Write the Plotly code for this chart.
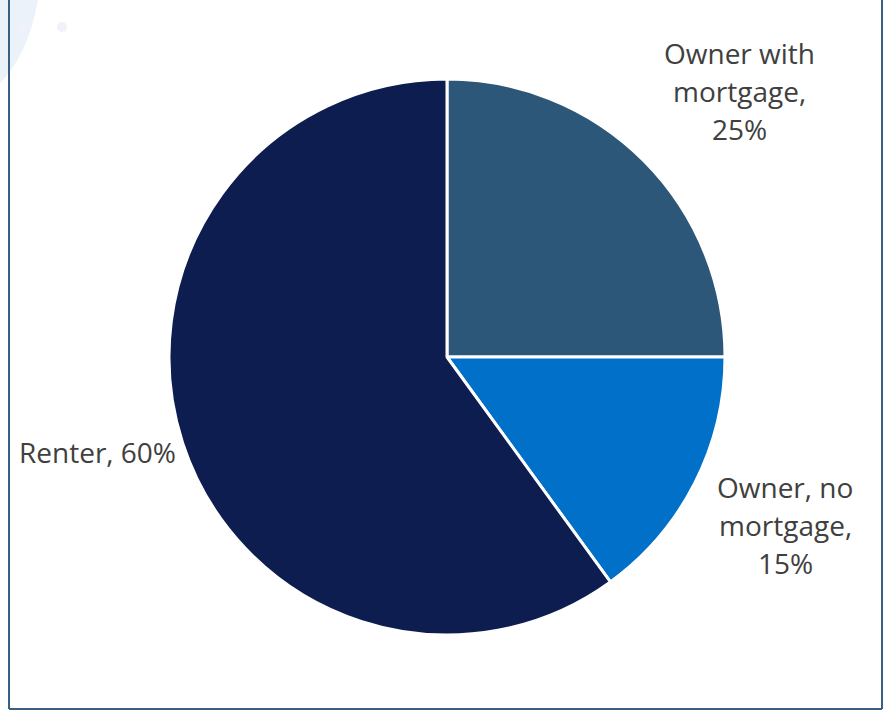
import plotly.graph_objects as go

categories = ["Owner with mortgage", "Owner, no mortgage", "Renter"]
values = [25, 15, 60]
colors = ["#2D5779", "#0070C8", "#0D1D50"]
label_lines = [["Owner with", "mortgage,", "25%"], ["Owner, no", "mortgage,", "15%"], ["Renter, 60%"]]

W, H = 884, 712
cx, cy, r = 447, 357, 278


def px(x):
    return x / W


def py(y):
    return 1 - y / H


fig = go.Figure()
fig.add_trace(go.Pie(
    labels=categories, values=values, sort=False, direction="clockwise", rotation=0,
    marker=dict(colors=colors, line=dict(color="white", width=3)),
    textinfo="none", hoverinfo="label+percent", showlegend=False,
    domain=dict(x=[(cx - r) / W, (cx + r) / W], y=[(H - cy - r) / H, (H - cy + r) / H]),
))

label_pos = [(739, 53), (785, 487), (97, 452)]
line_gap = 38
for lines, (lx, ly) in zip(label_lines, label_pos):
    for i, txt in enumerate(lines):
        fig.add_annotation(x=px(lx), y=py(ly + i * line_gap), xref="paper", yref="paper", text=txt,
                           showarrow=False, xanchor="center", yanchor="middle",
                           font=dict(family="Open Sans", size=28, color="#404040"))

# decorative background in top-left and frame
fig.add_shape(type="path", xref="paper", yref="paper", layer="below",
              path=f"M {px(0)} {py(83)} Q {px(28)} {py(55)} {px(38)} {py(0)} L {px(0)} {py(0)} Z",
              fillcolor="#EBF2F9", line=dict(width=0))
for dx in (23, 62):
    fig.add_shape(type="circle", xref="paper", yref="paper", layer="below",
                  x0=px(dx - 5), x1=px(dx + 5), y0=py(32), y1=py(22),
                  fillcolor="#EFF2F8", line=dict(width=0))
frame = "#3A5F80"
fig.add_shape(type="line", xref="paper", yref="paper", x0=px(9), x1=px(9), y0=py(0), y1=py(709),
              line=dict(color=frame, width=2))
fig.add_shape(type="line", xref="paper", yref="paper", x0=px(882), x1=px(882), y0=py(0), y1=py(709),
              line=dict(color=frame, width=2))
fig.add_shape(type="line", xref="paper", yref="paper", x0=px(9), x1=px(882), y0=py(709), y1=py(709),
              line=dict(color=frame, width=2))

fig.update_layout(width=W, height=H, margin=dict(l=0, r=0, t=0, b=0),
                  paper_bgcolor="white", plot_bgcolor="white")
fig.write_html("out.html", config={"displayModeBar": False},
               post_script="document.body.style.margin='0';document.body.style.overflow='hidden';")
